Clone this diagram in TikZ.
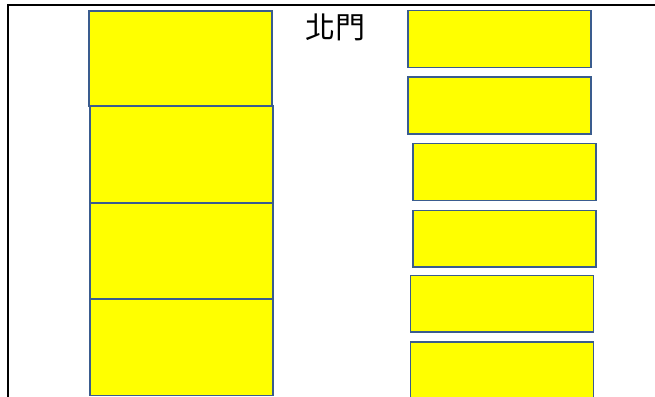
\documentclass[tikz,border=0pt]{standalone}
\usepackage{fontspec}
\newfontfamily\cjk{Noto Sans CJK TC}
\definecolor{boxline}{RGB}{58,92,142}
\definecolor{lotfill}{RGB}{255,255,0}
\tikzset{
  lot/.style={draw=boxline, line width=1.6pt, fill=lotfill},
}
\begin{document}
\begin{tikzpicture}[x=1pt,y=-1pt]
\useasboundingbox (0,0) rectangle (655,396);
% frame
\draw[line width=2.5pt, line cap=rect] (8,397) -- (8,5) -- (656,5);
% left column
\draw[lot] (89,11) rectangle (272,106);
\draw[lot] (90,106) rectangle (273,203);
\draw[lot] (90,203) rectangle (273,299);
\draw[lot] (90,299) rectangle (273,395.5);
% right column
\draw[lot] (408,10.5) rectangle (591,67.5);
\draw[lot] (408,77) rectangle (591,134);
\draw[lot] (413,143.5) rectangle (596,200.5);
\draw[lot] (413,210.5) rectangle (596,267);
\draw[lot] (410.5,275.5) rectangle (593.5,332);
\draw[lot] (410.5,342) rectangle (593.5,398);
% label
\node[font=\cjk\fontsize{30}{31}\selectfont, inner sep=0pt] (north) at (335,27) {北門};
\end{tikzpicture}
\end{document}
